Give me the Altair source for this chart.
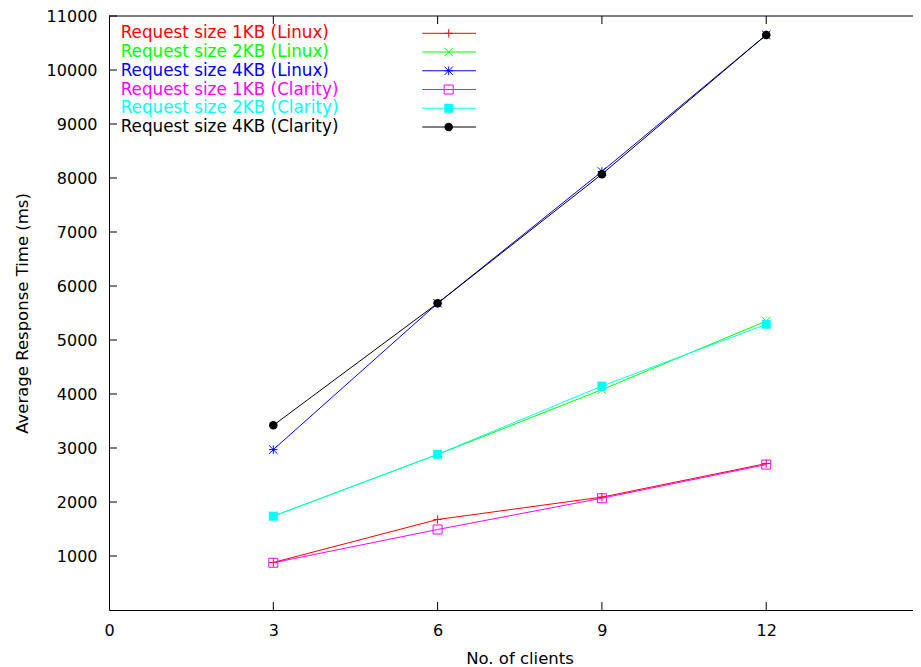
import altair as alt
import pandas as pd

# ---------------- data ----------------
clients = [3, 6, 9, 12]

series_names = [
    "Request size 1KB (Linux)",
    "Request size 2KB (Linux)",
    "Request size 4KB (Linux)",
    "Request size 1KB (Clarity)",
    "Request size 2KB (Clarity)",
    "Request size 4KB (Clarity)",
]
series_colors = ["#ff0000", "#00ff00", "#0000ff", "#ff00ff", "#00ffff", "#000000"]

linux_1kb = [880, 1676, 2090, 2711]
linux_2kb = [1737, 2880, 4080, 5350]
linux_4kb = [2970, 5680, 8120, 10650]
clarity_1kb = [875, 1491, 2070, 2693]
clarity_2kb = [1737, 2883, 4146, 5290]
clarity_4kb = [3420, 5680, 8071, 10650]
series_values = [linux_1kb, linux_2kb, linux_4kb, clarity_1kb, clarity_2kb, clarity_4kb]

x_tick_labels = [0, 3, 6, 9, 12]
x_inner_ticks = [3, 6, 9, 12]
y_tick_labels = [1000, 2000, 3000, 4000, 5000, 6000, 7000, 8000, 9000, 10000, 11000]
x_max = 14.68
y_max = 11000

# ---------------- styling ----------------
W, H = 804, 594
FONT = "DejaVu Sans"

PLUS = "M-1,0L1,0M0,-1L0,1"
XMARK = "M-1,-1L1,1M-1,1L1,-1"
STAR = "M-1,0L1,0M0,-1L0,1M-1,-1L1,1M-1,1L1,-1"
marker_specs = [
    dict(shape=PLUS, filled=False, size=70),
    dict(shape=XMARK, filled=False, size=72),
    dict(shape=STAR, filled=False, size=72),
    dict(shape="square", filled=False, size=81),
    dict(shape="square", filled=True, size=81),
    dict(shape="circle", filled=True, size=72),
]

x_scale = alt.Scale(domain=[0, x_max], nice=False, zero=False)
y_scale = alt.Scale(domain=[0, y_max], nice=False, zero=False)

x_axis = alt.Axis(
    values=x_tick_labels, title="No. of clients", ticks=False, tickSize=0, grid=False,
    domainColor="black", domainWidth=1, labelFont=FONT, labelFontSize=16,
    labelColor="black", labelPadding=12, labelFlush=False, labelOverlap=False,
    format="d",
    titleFont=FONT, titleFontSize=16.5, titleFontWeight="normal", titleColor="black",
    titleX=410.5, titleY=53, titleBaseline="alphabetic",
)
y_axis = alt.Axis(
    values=y_tick_labels, title="Average Response Time (ms)", ticks=False, tickSize=0,
    grid=False, domainColor="black", domainWidth=1, labelFont=FONT, labelFontSize=16,
    labelColor="black", labelPadding=12, labelFlush=False, labelOverlap=False,
    format="d",
    titleFont=FONT, titleFontSize=16.5, titleFontWeight="normal", titleColor="black",
    titleX=-82, titleY=H / 2, titleBaseline="alphabetic",
)


def X():
    return alt.X("x:Q", scale=x_scale, axis=x_axis)


def Y():
    return alt.Y("y:Q", scale=y_scale, axis=y_axis)


main_layers = []

# top border
main_layers.append(
    alt.Chart(pd.DataFrame({"y": [y_max]})).mark_rule(color="black", strokeWidth=1)
    .encode(y=Y(), x=alt.value(0), x2=alt.value(W))
)
# inward y ticks
main_layers.append(
    alt.Chart(pd.DataFrame({"y": y_tick_labels})).mark_rule(color="black", strokeWidth=1)
    .encode(y=Y(), x=alt.value(0), x2=alt.value(8))
)
# inward x ticks, bottom and top
xt = pd.DataFrame({"x": x_inner_ticks})
main_layers.append(
    alt.Chart(xt).mark_rule(color="black", strokeWidth=1)
    .encode(x=X(), y=alt.value(H), y2=alt.value(H - 8))
)
main_layers.append(
    alt.Chart(xt).mark_rule(color="black", strokeWidth=1)
    .encode(x=X(), y=alt.value(0), y2=alt.value(8))
)

for name, color, vals, mk in zip(series_names, series_colors, series_values, marker_specs):
    df = pd.DataFrame({"x": clients, "y": vals})
    base = alt.Chart(df).encode(x=X(), y=Y())
    main_layers.append(base.mark_line(color=color, strokeWidth=1))
    main_layers.append(
        base.mark_point(shape=mk["shape"], filled=mk["filled"], size=mk["size"],
                        color=color, strokeWidth=1, opacity=1)
    )

# ---------------- legend ----------------
legend_layers = []
leg_scale = alt.Scale(domain=[0, 5], range=[17.3, 111], zero=False, nice=False)
for i, (name, color, mk) in enumerate(zip(series_names, series_colors, marker_specs)):
    d = pd.DataFrame({"row": [i], "name": [name]})
    ly = alt.Y("row:Q", scale=leg_scale, axis=None)
    legend_layers.append(
        alt.Chart(d).mark_text(align="left", baseline="middle", font=FONT, fontSize=16.8,
                               color=color)
        .encode(x=alt.value(11.7), y=ly, text="name:N")
    )
    legend_layers.append(
        alt.Chart(d).mark_rule(color=color, strokeWidth=1)
        .encode(x=alt.value(313.3), x2=alt.value(367), y=ly)
    )
    legend_layers.append(
        alt.Chart(d).mark_point(shape=mk["shape"], filled=mk["filled"], size=mk["size"],
                                color=color, strokeWidth=1, opacity=1)
        .encode(x=alt.value(339.7), y=ly)
    )

chart = (
    alt.layer(alt.layer(*main_layers), alt.layer(*legend_layers))
    .resolve_scale(y="independent")
    .properties(
        width=W, height=H,
        autosize=alt.AutoSizeParams(type="none"),
        padding={"left": 101, "top": 8, "right": 0, "bottom": 62},
    )
    .configure_view(stroke=None)
)

chart.save("out.html", embed_options={"renderer": "svg", "actions": False})
